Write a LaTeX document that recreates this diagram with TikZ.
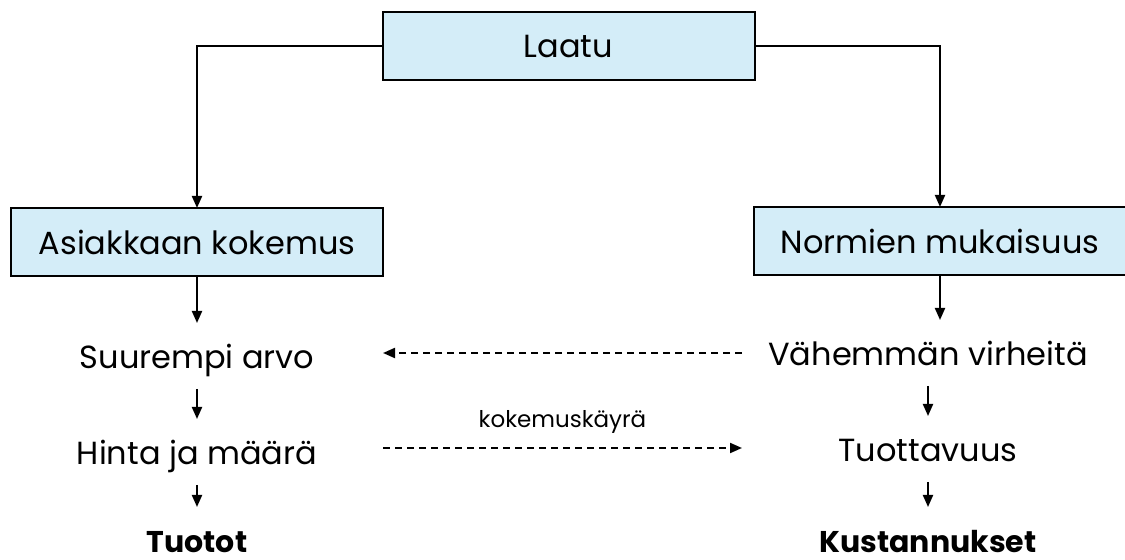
\documentclass[tikz,border=0pt]{standalone}
\usepackage{fontspec}
\setmainfont{Poppins}
\usetikzlibrary{arrows.meta,positioning}
\definecolor{boxblue}{RGB}{212,237,248}

\begin{document}
\begin{tikzpicture}[x=0.5pt,y=-0.5pt,
		laatikko/.style={draw=black,line width=1pt,fill=boxblue,minimum width=186pt,minimum height=34pt,inner sep=0pt,outer sep=0pt,font=\fontsize{16}{19}\selectfont},
		teksti/.style={minimum width=186pt,minimum height=33pt,text height=12.5pt,text depth=0pt,inner sep=0pt,outer sep=0pt,font=\fontsize{16}{19}\selectfont},
		lihava/.style={teksti,font=\fontsize{15}{18}\selectfont\bfseries},
		nuoli/.style={-{Triangle[length=6pt,width=5pt]},line width=1pt},
		katko/.style={nuoli,dash pattern=on 3.5pt off 2.5pt}]
		
		\useasboundingbox (0,0) rectangle (1125,560);
		
		% laatikot
		\node[laatikko] (laatu) at (568.5,46) {Laatu};
		\node[laatikko] (asiakas) at (197,242) {Asiakkaan kokemus};
		\node[laatikko] (normit) at (940,241) {Normien mukaisuus};
		
		% vasen sarake
		\node[teksti] (arvo) at (197,356) {Suurempi arvo};
		\node[teksti] (hinta) at (197,452) {Hinta ja määrä};
		\node[lihava] (tuotot) at (197,540) {Tuotot};
		
		% oikea sarake
		\node[teksti] (virheet) at (928,353) {Vähemmän virheitä};
		\node[teksti] (tuottavuus) at (928,449) {Tuottavuus};
		\node[lihava] (kustannukset) at (928,540) {Kustannukset};
		
		\draw[nuoli] (laatu.west) -| (asiakas.north);
		\draw[nuoli] (laatu.east) -| (normit.north);
		
		\draw[nuoli] (asiakas) -- (arvo);
		\draw[nuoli] (arvo) -- (hinta);
		\draw[nuoli] (hinta) -- (tuotot);
		
		\draw[nuoli] (normit.south) -- (normit.south |- virheet.north);
		\draw[nuoli] (virheet) -- (tuottavuus);
		\draw[nuoli] (tuottavuus) -- (kustannukset);
		
		\draw[katko] (virheet.west) -- (virheet.west -| arvo.east);
		\draw[katko] ([yshift=2pt]hinta.east) -- ([yshift=2pt]hinta.east -| tuottavuus.west)
			node[midway,above=3.5pt,font=\fontsize{11.5}{14}\selectfont] {kokemuskäyrä};
		
	\end{tikzpicture}
\end{document}
